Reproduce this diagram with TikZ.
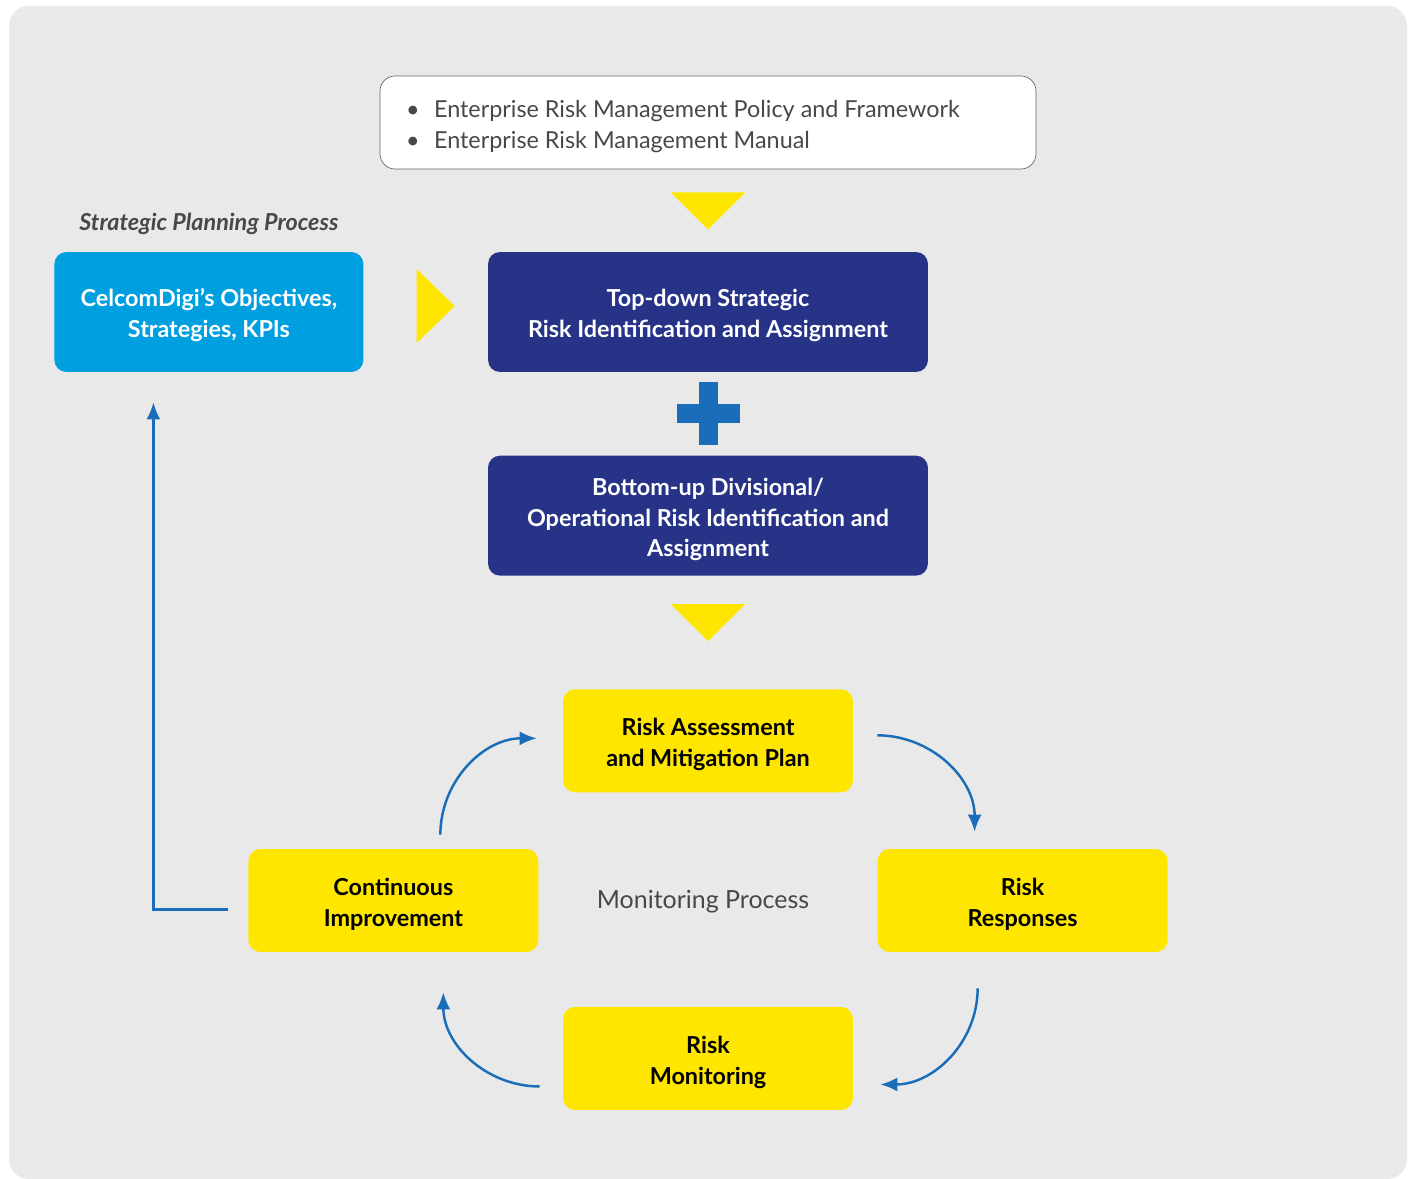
\documentclass[tikz,border=0pt]{standalone}
\usepackage{fontspec}
\setmainfont{Lato}
\usetikzlibrary{arrows.meta,positioning,calc}

\definecolor{bggray}{RGB}{233,233,233}
\definecolor{navy}{RGB}{38,51,135}
\definecolor{skyblue}{RGB}{0,159,224}
\definecolor{sunyellow}{RGB}{255,230,0}
\definecolor{linkblue}{RGB}{26,110,185}
\definecolor{textgray}{RGB}{72,72,72}
\newcommand\diagfont{\fontsize{13.3}{17.6}\selectfont}
\newcommand\topstrut{\rule{0pt}{0.5cm}}

\begin{document}
\begin{tikzpicture}[x=0.02cm, y=-0.02cm, >=Latex, node distance=1.66cm and 2.48cm,
  box/.style={rounded corners=2.4mm, align=flush center, font=\diagfont\bfseries, inner sep=0pt,
    execute at begin node=\topstrut},
  navybox/.style={box, fill=navy, text=white, text width=8.8cm, minimum height=2.4cm},
  kpibox/.style={box, fill=skyblue, text=white, text width=6.18cm, minimum height=2.4cm},
  stepbox/.style={box, fill=sunyellow, text=black, text width=5.8cm, minimum height=2.06cm},
  link/.style={->, draw=linkblue, line width=1.4pt, arrows={-Latex[length=3.4mm, width=2.8mm]}},
  marker/.style={fill=sunyellow}]
  \useasboundingbox (0,0) rectangle (1416,1179);
  \fill[white] (0,0) rectangle (1416,1179);
  \fill[bggray, rounded corners=4mm] (9,6) rectangle (1407,1179);

  \node[navybox] (topdown) at (708,312) {Top-down Strategic\\Risk Identification and Assignment};
  \node[navybox, below=of topdown] (bottomup) {Bottom-up Divisional/\\Operational Risk Identification and\\Assignment};
  \node[kpibox, left=of topdown] (kpi) {CelcomDigi’s Objectives,\\Strategies, KPIs};
  \node[above=0.22cm of kpi, font=\diagfont\bfseries\itshape, text=textgray] (planning) {Strategic Planning Process};
  \node[draw=black!60, fill=white, rounded corners=3mm, minimum height=1.86cm, inner xsep=0.52cm,
    text width=12.08cm, align=flush left, font=\diagfont, text=textgray,
    execute at begin node=\topstrut] (policy) at (708,122.5)
    {\makebox[0.56cm][l]{\textbullet}Enterprise Risk Management Policy and Framework\\
     \makebox[0.56cm][l]{\textbullet}Enterprise Risk Management Manual};

  \node[stepbox, below=2.26cm of bottomup] (assess) {Risk Assessment\\and Mitigation Plan};
  \node[stepbox, below left=1.12cm and 0.48cm of assess] (improve) {Continuous\\Improvement};
  \node[stepbox, below right=1.12cm and 0.48cm of assess] (respond) {Risk\\Responses};
  \node[stepbox, below=4.28cm of assess] (monitor) {Risk\\Monitoring};
  \node[font=\fontsize{14.2}{17.6}\selectfont, text=black!72] (monproc) at (703,902) {Monitoring Process};

  % yellow pointers and the plus
  \fill[marker] ($(policy.south)+(-37.5,23)$) -- ++(75,0) -- ($(policy.south)+(0,60)$) -- cycle;
  \fill[marker] ($(bottomup.south)+(-37.5,28)$) -- ++(75,0) -- ($(bottomup.south)+(0,65)$) -- cycle;
  \fill[marker] ($(topdown.west)+(-71,-43)$) -- ($(topdown.west)+(-33,-6)$) -- ($(topdown.west)+(-71,31)$) -- cycle;
  \coordinate (plus) at ($(topdown.south)!0.5!(bottomup.north)$);
  \fill[linkblue] ($(plus)+(-31.5,-9.5)$) rectangle ($(plus)+(31.5,9.5)$);
  \fill[linkblue] ($(plus)+(-9.5,-31.5)$) rectangle ($(plus)+(9.5,31.5)$);

  % cycle connectors
  \coordinate (improveout) at ($(improve.north)+(47,-14)$);
  \coordinate (assessin) at ($(assess.west)+(-26,-2.5)$);
  \coordinate (assessout) at ($(assess.east)+(24,-5.5)$);
  \coordinate (respondin) at ($(respond.north)+(-48,-17)$);
  \coordinate (respondout) at ($(respond.south)+(-45,36)$);
  \coordinate (monitorin) at ($(monitor.east)+(27,26)$);
  \coordinate (monitorout) at ($(monitor.west)+(-23,28)$);
  \coordinate (improvein) at ($(improve.south)+(50,40)$);
  \coordinate (backout) at ($(improve.west)+(-20,9)$);
  \coordinate (kpiin) at ($(kpi.south)+(-55.5,30)$);
  \draw[link] (improveout) to[out=90, in=180] (assessin);
  \draw[link] (assessout) to[out=0, in=90] (respondin);
  \draw[link] (respondout) to[out=-90, in=0] (monitorin);
  \draw[link] (monitorout) to[out=180, in=-90] (improvein);
  \draw[link] (backout) -| (kpiin);
\end{tikzpicture}
\end{document}
